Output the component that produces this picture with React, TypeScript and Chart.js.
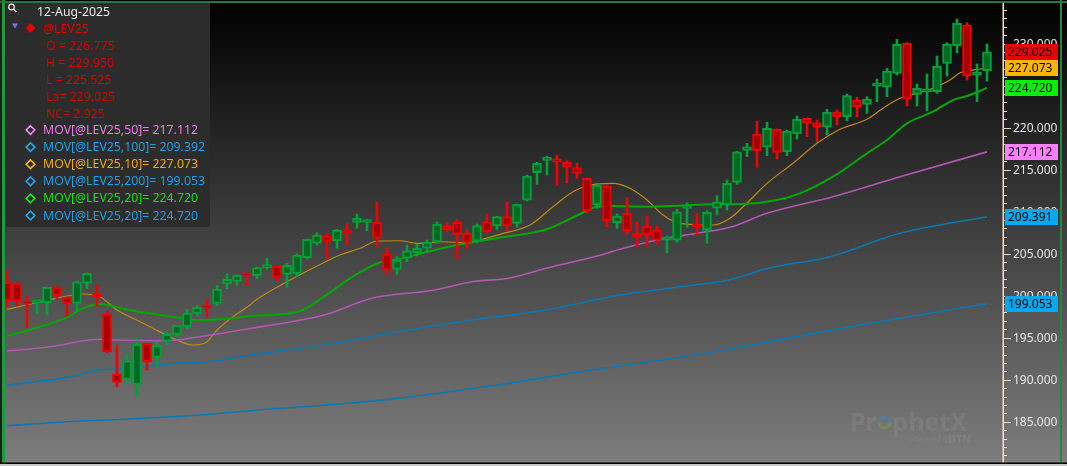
import React, { useEffect, useRef } from 'react';
import { Chart, registerables } from 'chart.js';

Chart.register(...registerables);

// ---- OHLC data, one entry per trading day ----
const OPEN = [
  201.6, 201.47, 199.05, 199.1, 199.16, 201.0, 199.8, 199.09, 201.47, 199.9,
  197.82, 190.64, 190.05, 189.45, 194.33, 192.66, 194.6, 195.4, 196.31, 197.9,
  198.6, 199.09, 201.39, 201.71, 202.4, 202.38, 203.33, 203.53, 202.54, 202.66,
  204.52, 206.23, 207.1, 206.54, 207.44, 208.73, 208.71, 208.73, 204.99, 203.14,
  204.45, 205.11, 205.64, 206.39, 208.33, 208.73, 207.42, 206.5, 208.8, 208.29,
  209.4, 208.61, 211.38, 214.63, 216.1, 215.96, 215.87, 215.23, 213.97, 210.79,
  213.05, 208.68, 209.8, 207.42, 208.29, 207.81, 206.6, 206.62, 210.38, 208.53,
  207.81, 210.4, 210.79, 213.49, 217.3, 219.24, 217.66, 219.8, 217.13, 219.24,
  221.11, 220.58, 220.04, 221.89, 221.3, 223.28, 222.77, 224.93, 224.8, 226.46,
  230.03, 223.96, 224.25, 224.27, 227.65, 229.75, 232.21, 226.24, 226.775,
];
const HIGH = [
  203.05, 201.55, 199.96, 199.4, 201.05, 201.23, 199.85, 201.7, 202.7, 201.27,
  198.17, 194.13, 193.06, 195.04, 194.4, 194.45, 195.68, 196.5, 198.38, 198.85,
  199.48, 201.27, 202.58, 202.5, 202.66, 203.4, 204.45, 203.6, 203.85, 204.96,
  206.75, 207.49, 207.42, 207.9, 208.61, 209.72, 209.09, 211.15, 205.64, 204.64,
  206.03, 206.15, 206.62, 208.8, 208.68, 209.09, 207.9, 208.53, 209.72, 209.45,
  211.11, 210.9, 214.36, 215.87, 216.62, 216.74, 216.06, 215.75, 214.0, 213.37,
  213.1, 209.72, 211.66, 208.8, 209.48, 208.29, 207.1, 210.28, 211.06, 209.8,
  210.11, 211.9, 213.76, 217.2, 218.13, 220.79, 220.63, 219.85, 219.7, 221.38,
  221.15, 220.9, 222.18, 222.09, 224.0, 223.61, 223.68, 225.78, 227.06, 230.51,
  230.1, 225.19, 226.38, 228.52, 230.1, 232.92, 232.48, 227.57, 229.95,
];
const LOW = [
  198.7, 198.77, 196.19, 197.9, 197.66, 199.64, 197.58, 198.09, 200.83, 198.77,
  193.21, 189.17, 189.64, 187.98, 191.15, 191.47, 194.09, 195.2, 196.03, 197.61,
  197.42, 198.77, 200.83, 201.19, 201.19, 202.02, 203.14, 201.66, 201.0, 202.26,
  204.33, 206.03, 204.36, 205.64, 206.03, 208.02, 207.73, 205.75, 202.46, 202.46,
  204.04, 204.72, 205.11, 206.23, 207.61, 204.36, 205.55, 206.3, 207.42, 207.9,
  207.69, 208.14, 211.27, 213.25, 214.36, 213.17, 213.44, 213.97, 209.8, 210.4,
  208.21, 208.02, 207.3, 205.83, 205.83, 206.03, 205.11, 206.35, 208.14, 207.22,
  206.23, 209.6, 210.19, 213.25, 216.54, 215.28, 216.66, 216.26, 216.66, 218.64,
  218.92, 218.32, 219.12, 220.31, 220.82, 221.3, 221.7, 223.08, 223.68, 226.26,
  222.57, 222.57, 222.01, 224.08, 226.14, 228.91, 225.66, 223.08, 225.525,
];
const CLOSE = [
  199.4, 199.36, 199.0, 199.2, 201.0, 200.04, 199.09, 201.66, 202.66, 199.85,
  193.33, 189.69, 192.26, 194.21, 192.14, 194.09, 195.4, 196.47, 197.9, 198.61,
  198.55, 200.76, 201.95, 202.42, 202.36, 203.33, 203.38, 202.18, 203.61, 204.84,
  206.71, 207.22, 206.5, 207.81, 207.4, 209.21, 208.75, 206.83, 203.05, 204.24,
  205.35, 205.64, 206.39, 208.53, 207.81, 207.3, 206.35, 208.33, 207.61, 209.4,
  208.29, 210.87, 214.24, 215.75, 216.15, 215.92, 215.28, 214.56, 210.11, 213.17,
  208.92, 209.48, 207.73, 206.95, 207.22, 206.62, 206.64, 209.99, 210.42, 208.14,
  209.92, 211.18, 213.37, 217.13, 217.7, 217.25, 219.92, 217.06, 219.6, 220.99,
  220.51, 220.04, 221.82, 221.3, 223.8, 222.49, 223.4, 224.97, 226.74, 229.95,
  223.37, 224.68, 224.29, 227.33, 229.95, 232.41, 226.14, 226.28, 229.025,
];

// ---- Moving averages: [day index, value] ----
const MA10: [number, number][] = [
  [0, 198.38], [3.3, 199.25], [7.8, 200.2], [9.3, 199.88], [11, 198.29], [12.6, 197.31],
  [14.3, 196.31], [17, 194.72], [18.6, 194.13], [20, 194.52], [21, 195.91], [22.6, 197.5],
  [24.3, 198.89], [25, 199.57], [27, 201.0], [31, 203.53], [33.3, 204.84], [35.3, 205.64],
  [37, 206.5], [39.3, 206.54], [41, 206.23], [43.6, 206.42], [46, 206.3], [47.3, 206.62],
  [49.3, 207.3], [52.3, 208.41], [54.6, 210.59], [56.6, 212.37], [58.3, 213.17], [60.6, 213.37],
  [62.3, 212.78], [64, 211.38], [65.6, 209.6], [67.3, 208.61], [70.6, 208.41], [72.3, 209.21],
  [74.3, 211.38], [76, 213.37], [78.6, 215.75], [81, 218.13], [83.3, 219.8], [86, 221.0],
  [87.6, 222.3], [89.3, 223.49], [91, 224.08], [92.6, 224.68], [94.3, 225.66], [95.3, 226.53],
  [96.6, 226.85], [98, 227.073],
];
const MA20: [number, number][] = [
  [0, 195.2], [3.3, 196.31], [6, 197.42], [7.6, 198.5], [9.3, 199.01], [11, 198.61],
  [12.6, 198.21], [14.3, 197.9], [16, 197.58], [17.6, 197.31], [19.3, 197.1], [22.6, 197.31],
  [24.3, 197.58], [29.1, 198.09], [31.7, 199.88], [34.3, 202.07], [37.2, 203.92], [39.1, 204.33],
  [42.1, 205.23], [45, 206.03], [49.5, 206.95], [54, 207.9], [57.3, 209.72], [59, 210.59],
  [60.6, 210.67], [64, 210.59], [67.3, 210.71], [70.6, 210.87], [73.6, 210.91], [77, 211.38],
  [79.3, 212.18], [82.6, 214.16], [86, 216.94], [88, 218.52], [90, 220.51], [92.6, 221.89],
  [94.6, 223.28], [96, 223.76], [98, 224.72],
];
const MA50: [number, number][] = [
  [0, 193.41], [4.3, 193.93], [9.3, 194.81], [11, 194.72], [16, 194.64], [19.3, 195.12],
  [24.3, 196.09], [31.7, 197.7], [36.5, 199.69], [42.8, 200.67], [46.5, 201.66], [50.2, 202.07],
  [53.9, 203.26], [59.4, 204.84], [61.3, 205.52], [65, 206.62], [69.3, 207.49], [72.3, 208.14],
  [76, 209.8], [82.6, 211.78], [89.3, 214.16], [98, 217.112],
];
const MA100: [number, number][] = [
  [0, 189.37], [6, 190.28], [9.3, 191.15], [12.6, 191.36], [16, 191.87], [21, 192.26],
  [24.3, 192.94], [31.7, 194.13], [39.1, 195.71], [46.5, 197.1], [53.9, 198.29], [61.3, 200.08],
  [68.7, 201.27], [72.3, 201.9], [76.1, 203.26], [82.3, 204.64], [89.3, 207.42], [98, 209.391],
];
const MA200: [number, number][] = [
  [0, 184.52], [6, 185.0], [12.6, 185.36], [19.3, 185.8], [26, 186.48], [33.3, 187.11],
  [39, 187.78], [49, 189.37], [59, 191.24], [68.7, 192.94], [75.3, 194.33], [85.3, 196.51],
  [98, 199.053],
];

// ---- Texts ----
const LEGEND_DATE = '12-Aug-2025';
const SYMBOL = '@LEV25';
const QUOTE_LINES = ['O = 226.775', 'H = 229.950', 'L = 225.525', 'La= 229.025', 'NC= 2.925'];
const STUDY_LINES = [
  'MOV[@LEV25,50]= 217.112',
  'MOV[@LEV25,100]= 209.392',
  'MOV[@LEV25,10]= 227.073',
  'MOV[@LEV25,200]= 199.053',
  'MOV[@LEV25,20]= 224.720',
  'MOV[@LEV25,20]= 224.720',
];
const STUDY_TEXT_COLORS = ['#e47ee4', '#1c9fe2', '#f2a800', '#1c9fe2', '#12e012', '#1c9fe2'];
const STUDY_MARK_COLORS = ['#ff88ff', '#20a8f0', '#ffb400', '#20a8f0', '#10f010', '#20a8f0'];
const TAG_VALUES = [229.025, 227.073, 224.72, 217.112, 209.391, 199.053];
const TAG_COLORS = ['#e60000', '#ffb400', '#00f000', '#ff80ff', '#00a8ee', '#00a8ee'];
const AXIS_STEP = 5;

const Y_MIN = 180.21;
const Y_MAX = 234.59;
const FONT = '"Noto Sans", "DejaVu Sans", sans-serif';

const GREEN_EDGE = '#00a03a';
const GREEN_FILL = '#006a22';
const RED_EDGE = '#ee0000';
const RED_FILL = '#a80000';

function diamond(ctx: CanvasRenderingContext2D, cx: number, cy: number, r: number) {
  ctx.beginPath();
  ctx.moveTo(cx, cy - r);
  ctx.lineTo(cx + r, cy);
  ctx.lineTo(cx, cy + r);
  ctx.lineTo(cx - r, cy);
  ctx.closePath();
}

const decorPlugin = {
  id: 'decor',
  beforeDraw(chart: any) {
    const { ctx, width, height } = chart;
    ctx.save();
    const g = ctx.createLinearGradient(0, 0, 0, height);
    g.addColorStop(0, '#000000');
    g.addColorStop(1, '#7e7e7e');
    ctx.fillStyle = g;
    ctx.fillRect(0, 0, width, height);
    ctx.restore();
  },
  beforeDatasetsDraw(chart: any) {
    const { ctx } = chart;
    ctx.save();
    // watermark
    ctx.font = `bold 25px ${FONT}`;
    ctx.textBaseline = 'alphabetic';
    ctx.fillStyle = 'rgba(255,255,255,0.07)';
    ctx.fillText('Pr', 850, 431);
    const wPr = ctx.measureText('Pr').width;
    ctx.fillText('phetX', 850 + wPr + ctx.measureText('o').width, 431);
    const ox = 850 + wPr + ctx.measureText('o').width / 2;
    ctx.lineWidth = 3.2;
    ctx.strokeStyle = 'rgba(40,150,220,0.35)';
    ctx.beginPath();
    ctx.arc(ox, 422.5, 5.5, Math.PI, 2 * Math.PI);
    ctx.stroke();
    ctx.strokeStyle = 'rgba(110,190,60,0.35)';
    ctx.beginPath();
    ctx.arc(ox, 422.5, 5.5, 0, Math.PI);
    ctx.stroke();
    ctx.font = `8px ${FONT}`;
    ctx.fillStyle = 'rgba(255,255,255,0.07)';
    ctx.fillText('powered by', 908, 442);
    ctx.font = `bold 11px ${FONT}`;
    ctx.fillText('DTN', 948, 443);
    ctx.restore();
  },
  afterDraw(chart: any) {
    const { ctx } = chart;
    const yScale = chart.scales.y;
    const axisX = chart.chartArea.right;
    ctx.save();

    // axis line + ticks + labels
    ctx.strokeStyle = '#f7e2b8';
    ctx.lineWidth = 1.5;
    ctx.beginPath();
    ctx.moveTo(axisX + 0.25, 3);
    ctx.lineTo(axisX + 0.25, 463);
    ctx.stroke();
    ctx.lineWidth = 1;
    ctx.font = `12px ${FONT}`;
    ctx.textBaseline = 'middle';
    ctx.textAlign = 'left';
    for (let v = Math.ceil(Y_MIN); v <= Math.floor(Y_MAX); v++) {
      const y = Math.round(yScale.getPixelForValue(v)) + 0.5;
      const major = v % AXIS_STEP === 0;
      ctx.strokeStyle = '#f7e2b8';
      ctx.beginPath();
      ctx.moveTo(axisX, y);
      ctx.lineTo(axisX + (major ? 8 : 4), y);
      ctx.stroke();
      if (major) {
        ctx.fillStyle = '#e6e6e6';
        ctx.fillText(v.toFixed(3), axisX + 10, y);
      }
    }

    // value tags
    TAG_VALUES.forEach((v, i) => {
      const y = yScale.getPixelForValue(v);
      ctx.fillStyle = TAG_COLORS[i];
      ctx.fillRect(axisX + 2, Math.round(y - 8), 53, 16);
      ctx.fillStyle = '#000000';
      ctx.fillText(v.toFixed(3), axisX + 5, y + 0.5);
    });

    // legend panel
    ctx.fillStyle = '#2c2c2c';
    ctx.fillRect(6, 2, 204, 225);
    // magnifier icon
    ctx.strokeStyle = '#f0f0f0';
    ctx.lineWidth = 1.2;
    ctx.beginPath();
    ctx.arc(11.5, 7, 2.8, 0, Math.PI * 2);
    ctx.stroke();
    ctx.beginPath();
    ctx.moveTo(13.6, 9.1);
    ctx.lineTo(16.5, 12);
    ctx.stroke();

    ctx.font = `12.3px ${FONT}`;
    ctx.textBaseline = 'middle';
    ctx.fillStyle = '#ececec';
    ctx.fillText(LEGEND_DATE, 37, 12);

    // triangle + red diamond
    ctx.fillStyle = '#7474ff';
    ctx.beginPath();
    ctx.moveTo(12, 23.5);
    ctx.lineTo(18, 23.5);
    ctx.lineTo(15, 28.5);
    ctx.closePath();
    ctx.fill();
    ctx.fillStyle = '#e80000';
    diamond(ctx, 30.5, 28, 5);
    ctx.fill();
    ctx.fillStyle = '#e00000';
    ctx.fillText(SYMBOL, 43, 29);

    ctx.fillStyle = '#d20000';
    QUOTE_LINES.forEach((t, i) => ctx.fillText(t, 46, 46 + i * 17));

    STUDY_LINES.forEach((t, i) => {
      const y = 130 + i * 17.1;
      ctx.strokeStyle = STUDY_MARK_COLORS[i];
      ctx.lineWidth = 1.6;
      diamond(ctx, 30.5, y, 4.3);
      ctx.stroke();
      ctx.fillStyle = STUDY_TEXT_COLORS[i];
      ctx.fillText(t, 43, y + 0.5);
    });

    // frame
    ctx.fillStyle = '#1e1e1e';
    ctx.fillRect(0, 0, 2, 466);
    ctx.fillStyle = '#14a03c';
    ctx.fillRect(2, 0, 3, 466);
    ctx.fillStyle = '#217a3c';
    ctx.fillRect(0, 1, 1067, 2);
    ctx.fillStyle = '#1f8a3c';
    ctx.fillRect(1060, 0, 2, 466);
    ctx.fillStyle = '#000000';
    ctx.fillRect(0, 462.5, 1067, 1.5);
    ctx.fillStyle = '#c8c8c8';
    ctx.fillRect(0, 464, 1067, 2);
    ctx.restore();
  },
};

export default function App() {
  const ref = useRef<HTMLCanvasElement | null>(null);

  useEffect(() => {
    if (!ref.current) return;
    const idx = OPEN.map((_, i) => i);
    const up = idx.map((i) => CLOSE[i] >= OPEN[i]);
    const line = (pts: [number, number][], color: string, width: number, dash: number[] = []) => ({
      type: 'line' as const,
      data: pts.map(([x, y]) => ({ x, y })),
      borderColor: color,
      borderWidth: width,
      borderDash: dash,
      pointRadius: 0,
      cubicInterpolationMode: 'monotone' as const,
      fill: false,
      order: 5,
    });

    const chart = new Chart(ref.current, {
      type: 'bar',
      data: {
        datasets: [
          line(MA200, '#0a78b4', 1.6),
          line(MA100, '#0a78b4', 1.6),
          line(MA50, '#b457b4', 1.6),
          line(MA20, '#00a800', 2),
          line(MA20, '#1b86c8', 1, [2, 3]),
          line(MA10, '#c08a10', 1.2),
          {
            type: 'bar',
            data: idx.map((i) => ({ x: i, y: [LOW[i], HIGH[i]] })),
            backgroundColor: up.map((u) => (u ? GREEN_EDGE : RED_EDGE)),
            borderWidth: 0,
            barThickness: 2,
            grouped: false,
            order: 2,
          } as any,
          {
            type: 'bar',
            data: idx.map((i) => ({ x: i, y: [OPEN[i], CLOSE[i]] })),
            backgroundColor: up.map((u) => (u ? GREEN_FILL : RED_FILL)),
            borderColor: up.map((u) => (u ? GREEN_EDGE : RED_EDGE)),
            borderWidth: 2,
            borderSkipped: false,
            barThickness: 9,
            minBarLength: 3,
            grouped: false,
            order: 1,
          } as any,
        ],
      },
      options: {
        animation: false,
        responsive: true,
        maintainAspectRatio: false,
        events: [],
        layout: { padding: { left: 2, top: 5, right: 0, bottom: 4 } },
        plugins: { legend: { display: false }, tooltip: { enabled: false } },
        scales: {
          x: {
            type: 'linear',
            min: -0.5,
            max: 99.6,
            offset: false,
            display: false,
          },
          y: {
            type: 'linear',
            position: 'right',
            min: Y_MIN,
            max: Y_MAX,
            beginAtZero: false,
            grid: { display: false, drawTicks: false },
            border: { display: false },
            ticks: { display: false },
            afterFit: (scale: any) => {
              scale.width = 64;
              scale.paddingTop = 0;
              scale.paddingBottom = 0;
            },
          },
        },
      },
      plugins: [decorPlugin],
    } as any);
    return () => chart.destroy();
  }, []);

  return (
    <div style={{ position: 'fixed', left: 0, top: 0, width: 1067, height: 466 }}>
      <canvas ref={ref} />
    </div>
  );
}
